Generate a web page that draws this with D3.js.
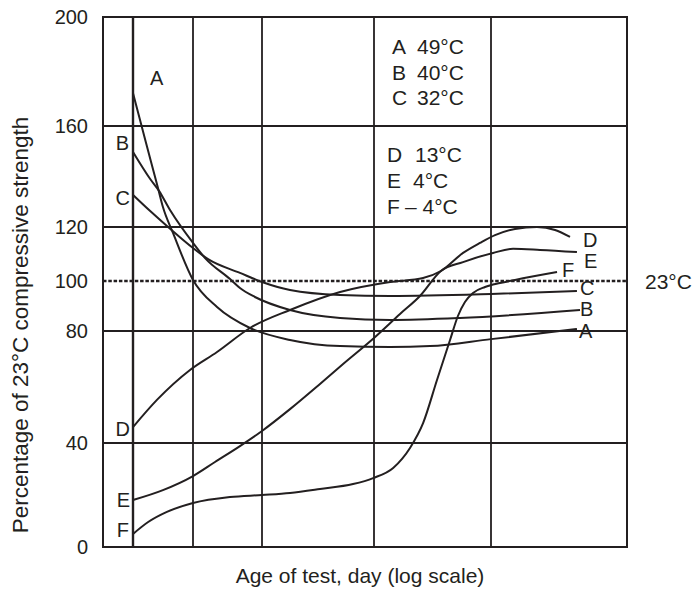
<!DOCTYPE html>
<html>
<head>
<meta charset="utf-8">
<script src="https://cdn.jsdelivr.net/npm/d3@7"></script>
<style>
  body { margin: 0; background: #fff; }
  text { font-family: Arial, "Liberation Sans", sans-serif; fill: #231f20; }
</style>
</head>
<body>
<div id="chart"></div>
<script>
const width = 696
const height = 595
const ink = "#231f20"

// x: age of test in days (log scale), y: % of the 23°C strength
const gridAges = [1, 3, 7, 28, 90]
const yTicks = [0, 40, 80, 100, 120, 160, 200]
const curveNames = ["A", "B", "C", "D", "E", "F"]
const temps = ["49°C", "40°C", "32°C", "13°C", "4°C", "– 4°C"]

const ageA = [1, 1.27, 1.58, 1.73, 2.08, 3, 4.03, 6.04, 9.9, 18.4, 32.9, 49, 90, 218]
const strA = [172.1, 153.3, 135.4, 127.9, 117.8, 100.4, 89.6, 81.2, 76.8, 74.6, 74.3, 74.6, 77.1, 80.8]

const ageB = [1, 1.37, 1.61, 1.97, 3, 3.48, 4.73, 5.34, 6.42, 9.9, 18.4, 32.9, 66, 225]
const strB = [149.7, 139.0, 134.3, 126.7, 114.1, 108.5, 100.7, 97.2, 93.6, 88.4, 85.2, 84.4, 85.2, 88.4]

const ageC = [1, 1.37, 1.9, 3, 3.61, 5.34, 7, 9.9, 18.4, 32.9, 90, 218]
const strC = [132.7, 126.3, 120, 112.2, 108.1, 103.0, 99.6, 96.4, 94.4, 94.0, 94.8, 96.0]

const ageD = [1, 1.55, 2.84, 4.03, 6.04, 9.9, 18.4, 32.9, 45.7, 54.6, 68.1, 80.6, 93.8, 115.2, 144.5, 174, 203]
const strD = [45.7, 55.4, 66.1, 72.5, 81.2, 88.4, 95.6, 99.6, 101.1, 103.7, 110.4, 114.1, 117.0, 119.3, 120, 118.9, 116.3]

const ageE = [1, 1.73, 3, 3.93, 5.34, 7, 9.9, 14.35, 19.1, 28, 36.3, 44.3, 54.6, 68.1, 91.9, 112.9, 149, 218]
const strE = [18.1, 21.9, 27.3, 32.7, 38.8, 44.3, 52.1, 61.1, 68.2, 77.5, 86.8, 94.0, 103.7, 107.0, 110.4, 111.9, 111.5, 110.7]

const ageF = [1, 1.32, 1.86, 3, 4.73, 7, 9.9, 14.35, 21.6, 27.7, 33.9, 40.1, 45.7, 52.5, 59.8, 64.7, 69.4, 75.2, 84.8, 98.7, 115.2, 177.6]
const strF = [5.0, 9.6, 13.5, 16.9, 19.2, 20.0, 20.8, 22.3, 24.2, 26.5, 30.4, 38.1, 47.1, 62.5, 76.8, 86.0, 91.6, 95.2, 97.6, 99.2, 100.4, 103.3]

const ages = [ageA, ageB, ageC, ageD, ageE, ageF]
const strengths = [strA, strB, strC, strD, strE, strF]

const plotLeft = 103, plotRight = 627, plotTop = 17, plotBottom = 547

// the printed log axis is not evenly spaced, so the scale is piecewise
const x = d3.scaleLog()
    .domain([0.5, ...gridAges, 365])
    .range([plotLeft, 133, 193, 262, 374, 491, plotRight])

const y = d3.scaleLinear()
    .domain(yTicks)
    .range([plotBottom, 443, 331, 281, 227, 126, plotTop])

const svg = d3.select("#chart").append("svg")
    .attr("width", width)
    .attr("height", height)
    .style("background-color", "#fff")

const grid = svg.append("g").attr("id", "grid")

grid.selectAll(".hline")
    .data(yTicks.filter(d => d !== 100))
    .join("line")
    .attr("class", "hline")
    .attr("x1", plotLeft).attr("x2", plotRight)
    .attr("y1", d => y(d)).attr("y2", d => y(d))
    .attr("stroke", ink)
    .attr("stroke-width", 2)

grid.selectAll(".vline")
    .data(gridAges)
    .join("line")
    .attr("class", "vline")
    .attr("x1", d => x(d)).attr("x2", d => x(d))
    .attr("y1", plotTop).attr("y2", plotBottom)
    .attr("stroke", ink)
    .attr("stroke-width", d => d === 1 ? 2.4 : 1.8)

// reference line: 23°C = 100 %
grid.append("line")
    .attr("x1", plotLeft).attr("x2", plotRight)
    .attr("y1", y(100)).attr("y2", y(100))
    .attr("stroke", ink)
    .attr("stroke-width", 2.6)
    .attr("stroke-dasharray", "3.5,1.8")

grid.append("rect")
    .attr("x", plotLeft).attr("y", plotTop)
    .attr("width", plotRight - plotLeft).attr("height", plotBottom - plotTop)
    .attr("fill", "none")
    .attr("stroke", ink)
    .attr("stroke-width", 2)

svg.append("g")
    .selectAll("text")
    .data(yTicks)
    .join("text")
    .attr("x", 88)
    .attr("y", d => y(d))
    .attr("dy", "0.36em")
    .attr("text-anchor", "end")
    .attr("font-size", 20)
    .text(d => d)

svg.append("text")
    .attr("transform", "translate(28,325) rotate(-90)")
    .attr("text-anchor", "middle")
    .attr("font-size", 22.5)
    .text("Percentage of 23°C compressive strength")

svg.append("text")
    .attr("x", 360)
    .attr("y", 583)
    .attr("text-anchor", "middle")
    .attr("font-size", 21)
    .text("Age of test, day (log scale)")

svg.append("text")
    .attr("x", 645)
    .attr("y", y(100))
    .attr("dy", "0.36em")
    .attr("font-size", 21)
    .text("23°C")

// curves
const line = d3.line()
    .x(d => x(d[0]))
    .y(d => y(d[1]))
    .curve(d3.curveMonotoneX)

const series = curveNames.map((name, i) => ({
    name: name,
    points: ages[i].map((a, j) => [a, strengths[i][j]])
}))

svg.append("g").attr("id", "curves")
    .selectAll("path")
    .data(series)
    .join("path")
    .attr("d", d => line(d.points))
    .attr("fill", "none")
    .attr("stroke", ink)
    .attr("stroke-width", 2)

// letter labels at both ends of every curve (pixel offsets from the end points)
const startOffset = {A: [17, -8, "start"], B: [-4, -2, "end"], C: [-3, 10, "end"],
                     D: [-3, 9, "end"], E: [-3, 7, "end"], F: [-4, 3, "end"]}
const endOffset = {A: [2, 9], B: [0, 6], C: [3, 4], D: [13, 10], E: [7, 16], F: [5, 5]}

const labels = svg.append("g").attr("id", "labels").attr("font-size", 20)

series.forEach(s => {
    const first = s.points[0]
    const last = s.points[s.points.length - 1]
    const o = startOffset[s.name]
    labels.append("text")
        .attr("x", x(first[0]) + o[0])
        .attr("y", y(first[1]) + o[1])
        .attr("text-anchor", o[2])
        .text(s.name)
    const e = endOffset[s.name]
    labels.append("text")
        .attr("x", x(last[0]) + e[0])
        .attr("y", y(last[1]) + e[1])
        .text(s.name)
})

// legend: two blocks in the upper right cells
const legend = svg.append("g").attr("id", "legend").attr("font-size", 21)
const legendRows = [
    {lx: 392, vx: 417, y: 54}, {lx: 392, vx: 417, y: 79.5}, {lx: 392, vx: 417, y: 105},
    {lx: 387, vx: 415, y: 162}, {lx: 387, vx: 413, y: 188}, {lx: 387, vx: 405, y: 214}
]
legendRows.forEach((r, i) => {
    legend.append("text").attr("x", r.lx).attr("y", r.y).text(curveNames[i])
    legend.append("text").attr("x", r.vx).attr("y", r.y).text(temps[i])
})
</script>
</body>
</html>
